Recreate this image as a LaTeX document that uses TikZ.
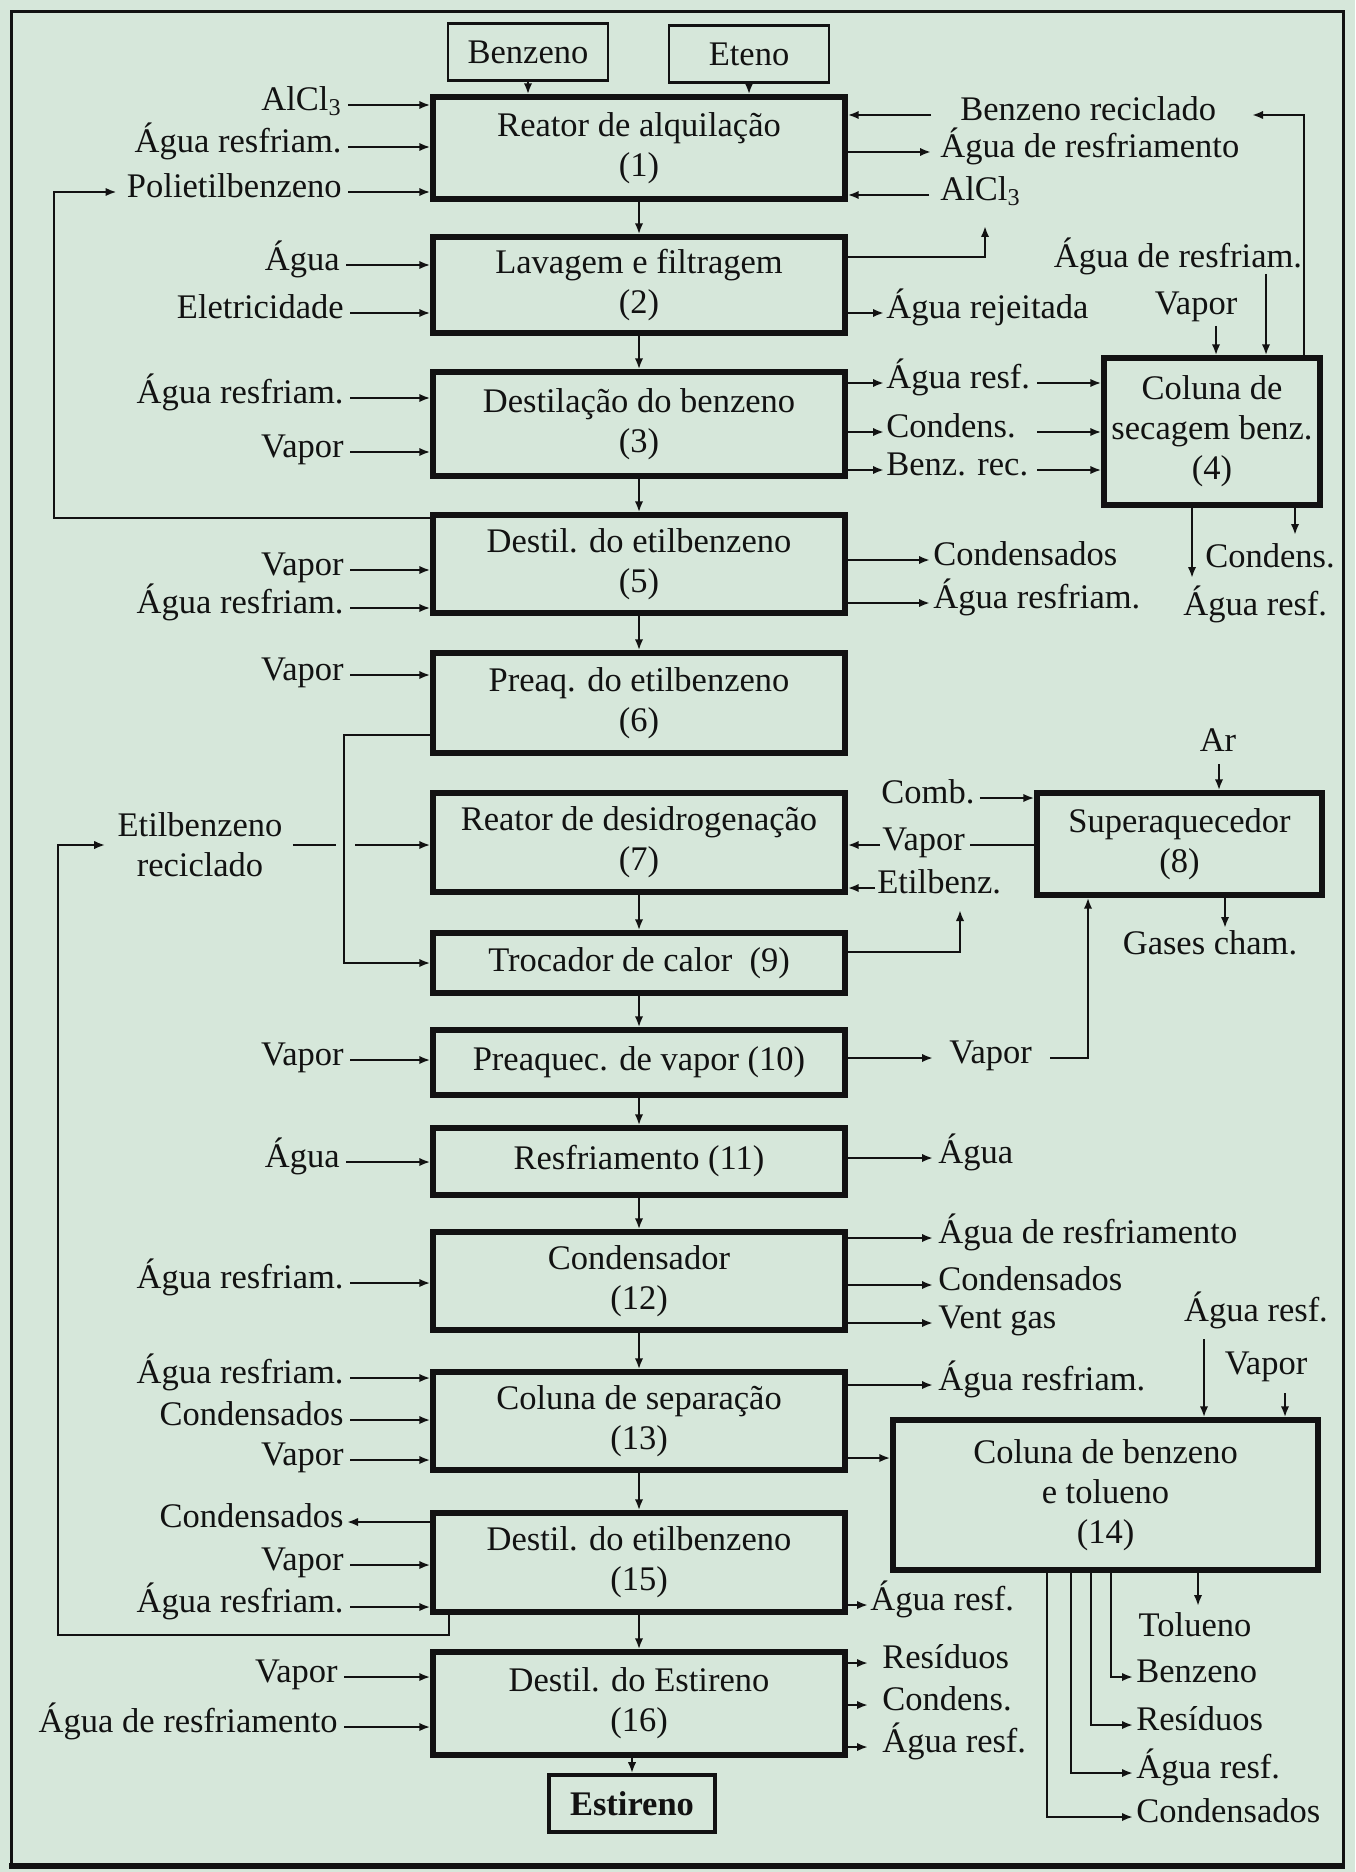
\documentclass[tikz,border=0pt]{standalone}
\usepackage{fontspec}
\setmainfont{Liberation Serif}
\usetikzlibrary{arrows.meta}
\definecolor{paper}{RGB}{214,231,218}
\definecolor{ink}{RGB}{18,18,18}

\begin{document}
\begin{tikzpicture}[x=0.5pt,y=-0.5pt,
  every node/.style={font=\fontsize{17.25}{20}\selectfont, inner sep=0pt, text=ink},
  lbl/.style={text height=0.72em, text depth=0.2em},
  pbox/.style={draw=ink, line width=2.7pt, align=center, minimum width=206pt},
  feed/.style={draw=ink, line width=1.2pt, minimum width=80pt, minimum height=28.5pt},
  wire/.style={draw=ink, line width=1.1pt},
  arr/.style={wire, -{Latex[length=5.5pt,width=4.2pt]}},
]
% sheet and frame
\fill[paper] (0,0) rectangle (1355,1872);
\draw[ink, line width=1.5pt] (11,1866) -- (11,12) -- (1343,12) -- (1343,1866);
\draw[ink, line width=2.8pt] (9,1866) -- (1345,1866);

% raw material boxes
\node[feed] (benz) at (528,52) {Benzeno};
\node[feed] (eteno) at (749,54) {Eteno};

% main process column
\node[pbox, minimum height=51pt]   (b1)  at (639,148)    {Reator de alquilação\\(1)};
\node[pbox, minimum height=48pt]   (b2)  at (639,285)    {Lavagem e filtragem\\(2)};
\node[pbox, minimum height=52pt]   (b3)  at (639,424)    {Destilação do benzeno\\(3)};
\node[pbox, minimum height=49pt]   (b5)  at (639,564)    {Destil. do etilbenzeno\\(5)};
\node[pbox, minimum height=50pt]   (b6)  at (639,703)    {Preaq. do etilbenzeno\\(6)};
\node[pbox, minimum height=49.5pt] (b7)  at (639,842.5)  {Reator de desidrogenação\\(7)};
\node[pbox, minimum height=30pt]   (b9)  at (639,963)    {Trocador de calor~~(9)};
\node[pbox, minimum height=32.5pt] (b10) at (639,1062.5) {Preaquec. de vapor (10)};
\node[pbox, minimum height=33.5pt] (b11) at (639,1161.5) {Resfriamento (11)};
\node[pbox, minimum height=49pt]   (b12) at (639,1281)   {Condensador\\(12)};
\node[pbox, minimum height=49pt]   (b13) at (639,1421)   {Coluna de separação\\(13)};
\node[pbox, minimum height=49.5pt] (b15) at (639,1562.5) {Destil. do etilbenzeno\\(15)};
\node[pbox, minimum height=51.5pt] (b16) at (639,1703.5) {Destil. do Estireno\\(16)};
\node[draw=ink, line width=1.8pt, minimum width=83pt, minimum height=28.5pt] (est) at (632,1803.5) {\bfseries Estireno};

% side units
\node[pbox, minimum width=108pt, minimum height=73.5pt] (b4) at (1212,431.5) {Coluna de\\secagem benz.\\(4)};
\node[pbox, minimum width=142.5pt, minimum height=51pt] (b8) at (1179.5,844) {Superaquecedor\\(8)};
\node[pbox, minimum width=212.5pt, minimum height=75pt] (b14) at (1105.5,1495) {Coluna de benzeno\\e tolueno\\(14)};

% main flow
\draw[arr] (benz.south) -- (benz.south |- b1.north);
\draw[arr] (eteno.south) -- (eteno.south |- b1.north);
\draw[arr] (b1.south) -- (b2.north);
\draw[arr] (b2.south) -- (b3.north);
\draw[arr] (b3.south) -- (b5.north);
\draw[arr] (b5.south) -- (b6.north);
\draw[arr] (b7.south) -- (b9.north);
\draw[arr] (b9.south) -- (b10.north);
\draw[arr] (b10.south) -- (b11.north);
\draw[arr] (b11.south) -- (b12.north);
\draw[arr] (b12.south) -- (b13.north);
\draw[arr] (b13.south) -- (b15.north);
\draw[arr] (b15.south) -- (b16.north);
\draw[arr] (b16.south -| est.north) -- (est.north);

% left-hand feeds
\foreach \nm/\px/\py/\txt/\tgt in {
  fa/342/105/{AlCl\textsubscript{3}}/b1,
  fb/342/147/{Água resfriam.}/b1,
  fc/342/192/{Polietilbenzeno}/b1,
  fd/340/265/{Água}/b2,
  fe/344/313/{Eletricidade}/b2,
  ff/344/398/{Água resfriam.}/b3,
  fg/344/452/{Vapor}/b3,
  fh/344/570/{Vapor}/b5,
  fi/344/608/{Água resfriam.}/b5,
  fj/344/675/{Vapor}/b6,
  fk/344/1060/{Vapor}/b10,
  fl/340/1162/{Água}/b11,
  fm/344/1283/{Água resfriam.}/b12,
  fn/344/1378/{Água resfriam.}/b13,
  fo/344/1420/{Condensados}/b13,
  fp/344/1460/{Vapor}/b13,
  fq/344/1565/{Vapor}/b15,
  fr/344/1607/{Água resfriam.}/b15,
  fs/338/1677/{Vapor}/b16,
  ft/338/1727/{Água de resfriamento}/b16}{
  \node[lbl, anchor=east] (\nm) at (\px,\py) {\txt};
  \draw[arr, shorten <=3pt] (\nm.east) -- (\nm.east -| \tgt.west);
}
\node[lbl, anchor=east] (cq) at (344,1522) {Condensados};
\draw[arr, shorten >=1.5pt] (b15.west |- cq.east) -- (cq.east);

% recycle of polyethylbenzene
\coordinate (pl) at (54,518);
\draw[arr, shorten >=5pt] (b5.west |- pl) -- (pl) |- (fc.west);

% recycle of ethylbenzene
\node[align=center] (etr) at (200,845) {Etilbenzeno\\reciclado};
\coordinate (eb1) at (449,1635);
\coordinate (eb2) at (58,1635);
\draw[arr, shorten >=6pt] (b15.south -| eb1) -- (eb1) -- (eb2) |- (etr.west);
\coordinate (gapa) at (336,845);
\coordinate (gapb) at (355,845);
\draw[wire, shorten <=5pt] (etr.east) -- (gapa);
\draw[arr] (gapb) -- (gapb -| b7.west);

% preheated ethylbenzene to the heat exchanger
\coordinate (br) at (344,735);
\draw[arr] (b6.west |- br) -- (br) |- (b9.west);

% right-hand streams of unit 1
\node[lbl, anchor=west] (rb) at (960,115) {Benzeno reciclado};
\node[lbl, anchor=west] (ra) at (940,152) {Água de resfriamento};
\node[lbl, anchor=west] (rc) at (940,195) {AlCl\textsubscript{3}};
\draw[arr, shorten <=14.5pt] (rb.west) -- (rb.west -| b1.east);
\draw[arr, shorten >=4.5pt] (b1.east |- ra.west) -- (ra.west);
\draw[arr, shorten <=5.5pt] (rc.west) -- (rc.west -| b1.east);

% unit 2
\coordinate (u2) at (985,257);
\coordinate (u2t) at (985,226);
\draw[arr] (b2.east |- u2) -| (u2t);
\node[lbl, anchor=west] (rj) at (886,313) {Água rejeitada};
\draw[arr, shorten >=1pt] (b2.east |- rj.west) -- (rj.west);

% unit 3 to the drying column
\coordinate (s4) at (1037,0);
\foreach \nm/\py/\txt in {ga/383/{Água resf.}, gb/432/{Condens.}, gc/470/{Benz. rec.}}{
  \node[lbl, anchor=west] (\nm) at (886,\py) {\txt};
  \draw[arr, shorten >=1pt] (b3.east |- \nm.west) -- (\nm.west);
  \draw[arr] (s4 |- \nm) -- (\nm -| b4.west);
}

% drying column
\node[lbl] (hw) at (1178,262) {Água de resfriam.};
\node[lbl] (hv) at (1196,309) {Vapor};
\coordinate (t4a) at (1266,274);
\coordinate (t4b) at (1216,326);
\draw[arr] (t4a) -- (t4a |- b4.north);
\draw[arr] (t4b) -- (t4b |- b4.north);
\coordinate (rc4) at (1304,115);
\coordinate (rc4t) at (1252,115);
\draw[arr] (b4.north -| rc4) -- (rc4) -- (rc4t);
\node[lbl, anchor=west] (hc) at (1205,562) {Condens.};
\node[lbl, anchor=west] (hr) at (1183,610) {Água resf.};
\coordinate (d4a) at (1192,578);
\coordinate (d4b) at (1295,535);
\draw[arr] (b4.south -| d4a) -- (d4a);
\draw[arr] (b4.south -| d4b) -- (d4b);

% unit 5
\node[lbl, anchor=west] (ka) at (933,560) {Condensados};
\node[lbl, anchor=west] (kb) at (933,603) {Água resfriam.};
\draw[arr, shorten >=1.5pt] (b5.east |- ka.west) -- (ka.west);
\draw[arr, shorten >=1.5pt] (b5.east |- kb.west) -- (kb.west);

% superheater
\node[lbl] (air) at (1218,746) {Ar};
\coordinate (ar8) at (1219,764);
\draw[arr] (ar8) -- (ar8 |- b8.north);
\node[lbl, anchor=west] (cb) at (881,798) {Comb.};
\draw[arr, shorten <=2.5pt] (cb.east) -- (cb.east -| b8.west);
\node[lbl, anchor=west] (v7) at (882,845) {Vapor};
\draw[wire, shorten <=2.5pt] (v7.east) -- (v7.east -| b8.west);
\draw[arr, shorten <=1pt] (v7.west) -- (v7.west -| b7.east);
\node[lbl, anchor=west] (eb) at (877,888) {Etilbenz.};
\draw[arr, shorten <=1pt] (eb.west) -- (eb.west -| b7.east);
\coordinate (u9) at (960,952);
\coordinate (u9t) at (960,910);
\draw[arr] (b9.east |- u9) -- (u9) -- (u9t);
\node[lbl] (gc8) at (1210,949) {Gases cham.};
\coordinate (g8) at (1225,928);
\draw[arr] (b8.south -| g8) -- (g8);

% unit 10 steam to the superheater
\node[lbl, anchor=west] (v10) at (949,1058) {Vapor};
\draw[arr, shorten >=8pt] (b10.east |- v10.west) -- (v10.west);
\coordinate (u10) at (1088,1058);
\draw[arr, shorten <=9pt] (v10.east) -- (u10) -- (u10 |- b8.south);

% units 11 to 13
\node[lbl, anchor=west] (w11) at (938,1158) {Água};
\draw[arr, shorten >=2.5pt] (b11.east |- w11.west) -- (w11.west);
\foreach \nm/\py/\txt/\tgt in {
  w12a/1238/{Água de resfriamento}/b12,
  w12b/1285/{Condensados}/b12,
  w12c/1323/{Vent gas}/b12,
  w13/1385/{Água resfriam.}/b13}{
  \node[lbl, anchor=west] (\nm) at (938,\py) {\txt};
  \draw[arr, shorten >=2.5pt] (\tgt.east |- \nm.west) -- (\nm.west);
}
\coordinate (c1314) at (870,1458);
\draw[arr] (b13.east |- c1314) -- (c1314 -| b14.west);

% benzene and toluene column
\node[lbl] (zw) at (1256,1316) {Água resf.};
\node[lbl] (zv) at (1266,1369) {Vapor};
\coordinate (z1) at (1204,1339);
\coordinate (z2) at (1285,1393);
\draw[arr] (z1) -- (z1 |- b14.north);
\draw[arr] (z2) -- (z2 |- b14.north);
\node[lbl] (tol) at (1195,1631) {Tolueno};
\coordinate (zt) at (1198,1606);
\draw[arr] (b14.south -| zt) -- (zt);
\foreach \nm/\cx/\py/\txt in {
  oa/1111/1677/{Benzeno},
  ob/1091/1725/{Resíduos},
  oc/1071/1773/{Água resf.},
  od/1047/1817/{Condensados}}{
  \node[lbl, anchor=west] (\nm) at (1136,\py) {\txt};
  \coordinate (\nm x) at (\cx,0);
  \draw[arr, shorten >=1.5pt] (b14.south -| \nm x) |- (\nm.west);
}

% unit 15 and unit 16 outputs
\node[lbl, anchor=west] (q15) at (870,1605) {Água resf.};
\draw[arr, shorten >=1pt] (b15.east |- q15.west) -- (q15.west);
\foreach \nm/\py/\txt in {qa/1663/{Resíduos}, qb/1705/{Condens.}, qc/1747/{Água resf.}}{
  \node[lbl, anchor=west] (\nm) at (882,\py) {\txt};
  \draw[arr, shorten >=7pt] (b16.east |- \nm.west) -- (\nm.west);
}
\end{tikzpicture}
\end{document}
